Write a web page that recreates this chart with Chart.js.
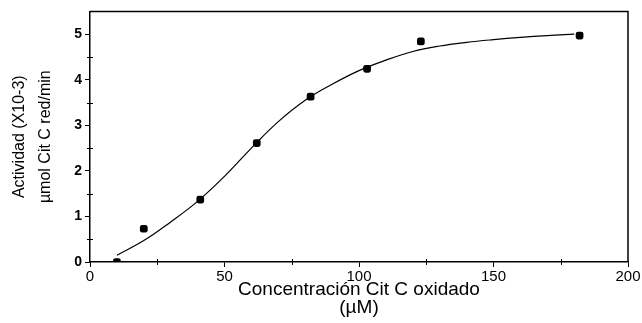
<!DOCTYPE html>
<html>
<head>
<meta charset="utf-8">
<script src="https://cdn.jsdelivr.net/npm/chart.js@4"></script>
<style>
  html, body { margin: 0; padding: 0; background: #fff; }
  #wrap { width: 642px; height: 323px; }
</style>
</head>
<body>
<div id="wrap"><canvas id="chart"></canvas></div>
<script>
// measured points
const concX = [10, 20, 41, 62, 82, 103, 123, 182];
const activity = [0, 0.73, 1.37, 2.61, 3.63, 4.24, 4.84, 4.97];
// fitted curve
const fitX = [10, 20, 30, 40, 50, 60, 70, 80, 90, 100, 110, 120, 130, 140, 150, 160, 170, 180];
const fitY = [0.15, 0.47, 0.88, 1.33, 1.88, 2.5, 3.08, 3.55, 3.9, 4.2, 4.43, 4.62, 4.74, 4.82, 4.88, 4.93, 4.97, 5.0];
const xTicks = [0, 50, 100, 150, 200];
const yTicks = [0, 1, 2, 3, 4, 5];
const xMinor = [25, 75, 125, 175];
const yMinor = [0.5, 1.5, 2.5, 3.5, 4.5];

const frame = {
  id: 'frame',
  afterDraw(chart) {
    const { ctx, chartArea: a, scales: { x, y } } = chart;
    ctx.save();
    ctx.strokeStyle = '#000';
    ctx.lineWidth = 1.5;
    ctx.beginPath();
    ctx.moveTo(a.left, a.top);
    ctx.lineTo(a.right, a.top);
    ctx.lineTo(a.right, a.bottom);
    ctx.stroke();
    ctx.lineWidth = 1;
    ctx.beginPath();
    yMinor.forEach(v => {
      const py = Math.round(y.getPixelForValue(v)) + 0.5;
      ctx.moveTo(a.left - 3, py);
      ctx.lineTo(a.left + 3, py);
    });
    xMinor.forEach(v => {
      const px = Math.round(x.getPixelForValue(v)) + 0.5;
      ctx.moveTo(px, a.bottom - 3);
      ctx.lineTo(px, a.bottom + 3);
    });
    ctx.stroke();
    ctx.restore();
  }
};

new Chart(document.getElementById('chart'), {
  type: 'scatter',
  data: {
    datasets: [
      {
        data: fitX.map((v, i) => ({ x: v, y: fitY[i] })),
        showLine: true,
        borderColor: '#000',
        borderWidth: 1.2,
        pointRadius: 0,
        tension: 0.4
      },
      {
        data: concX.map((v, i) => ({ x: v, y: activity[i] })),
        pointStyle: 'rectRounded',
        pointRadius: 4.5,
        backgroundColor: '#000',
        borderColor: '#000',
        borderWidth: 0
      }
    ]
  },
  options: {
    responsive: true,
    maintainAspectRatio: false,
    animation: false,
    layout: { padding: { top: 9, right: 14, left: 0, bottom: 0 } },
    plugins: { legend: { display: false }, tooltip: { enabled: false } },
    scales: {
      x: {
        type: 'linear',
        min: 0,
        max: 200,
        afterBuildTicks: s => { s.ticks = xTicks.map(v => ({ value: v })); },
        afterFit: s => { s.height = 61; },
        grid: { drawOnChartArea: false, color: '#000', tickLength: 5 },
        border: { color: '#000', width: 1.5 },
        ticks: { color: '#000', padding: 1, maxRotation: 0, font: { family: 'Liberation Sans, Arial', size: 15 } },
        title: {
          display: true,
          text: ['Concentración Cit C oxidado', '(µM)'],
          color: '#000',
          font: { family: 'Liberation Sans, Arial', size: 19, lineHeight: 0.95 },
          padding: { top: 0, bottom: 6 }
        }
      },
      y: {
        min: 0,
        max: 5.5,
        afterBuildTicks: s => { s.ticks = yTicks.map(v => ({ value: v })); },
        afterFit: s => { s.width = 90; },
        grid: { drawOnChartArea: false, color: '#000', tickLength: 5 },
        border: { color: '#000', width: 1.5 },
        ticks: { color: '#000', padding: 3, font: { family: 'Liberation Sans, Arial', size: 14, weight: 'bold' } },
        title: {
          display: true,
          text: ['Actividad (X10-3)', 'µmol Cit C red/min'],
          color: '#000',
          font: { family: 'Liberation Sans, Arial', size: 16, lineHeight: 1.625 },
          padding: { top: 7, bottom: 0 }
        }
      }
    }
  },
  plugins: [frame]
});
</script>
</body>
</html>
